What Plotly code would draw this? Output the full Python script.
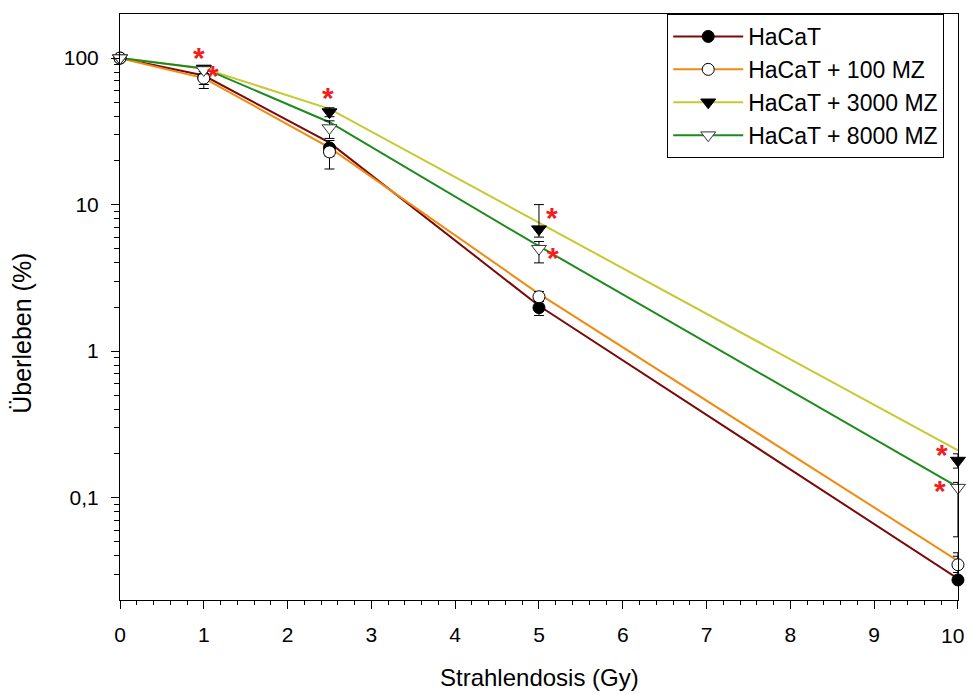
import math
import plotly.graph_objects as go

# ---- data ----
dose = [0, 1, 2.5, 5, 10]
names = ["HaCaT", "HaCaT + 100 MZ", "HaCaT + 3000 MZ", "HaCaT + 8000 MZ"]

# measured survival (%)
surv_hacat = [100, 74, 24.4, 1.98, 0.0274]
surv_100 = [100, 73, 22.9, 2.35, 0.0348]
surv_3000 = [100, 85, 42.8, 6.8, 0.179]
surv_8000 = [100, 83, 33.3, 5.0, 0.117]

# error bars (upper / lower)
err_up_hacat = [0, 4, 3, 0.2, 0.0146]
err_dn_hacat = [0, 8, 3, 0.23, 0.001]
err_up_100 = [0, 4, 2, 0.2, 0.005]
err_dn_100 = [0, 11, 5.4, 0.3, 0.004]
err_up_3000 = [0, 3, 3, 3.2, 0.02]
err_dn_3000 = [0, 4, 3, 0.8, 0.02]
err_up_8000 = [0, 3, 4, 0.6, 0.01]
err_dn_8000 = [0, 5, 5, 1.0, 0.063]

# fitted curves (%)
fit_hacat = [100, 76, 26.5, 2.04, 0.028]
fit_100 = [100, 73, 24.5, 2.46, 0.037]
fit_3000 = [100, 85, 45, 7.5, 0.21]
fit_8000 = [100, 85, 36.5, 5.2, 0.118]

# significance asterisks
star_x = [0.943, 1.11, 2.482, 5.155, 5.167, 9.809, 9.785]
star_y = [106.5, 80.3, 56.8, 8.61, 4.59, 0.2077, 0.1179]

x_tickvals = list(range(0, 11))
x_ticktext = [str(v) for v in x_tickvals]
y_tickvals = [0.1, 1, 10, 100]
y_ticktext = ["0,1", "1", "10", "100"]

# ---- styles ----
line_colors = ["#7A0A0A", "#F08A10", "#C8C832", "#1E8A1E"]
marker_symbols = ["circle", "circle", "triangle-down", "triangle-down"]
marker_fills = ["black", "white", "black", "white"]
marker_lines = ["black", "black", "black", "#333333"]
marker_sizes = [12, 12, 13, 13]

surv = [surv_hacat, surv_100, surv_3000, surv_8000]
eup = [err_up_hacat, err_up_100, err_up_3000, err_up_8000]
edn = [err_dn_hacat, err_dn_100, err_dn_3000, err_dn_8000]
fits = [fit_hacat, fit_100, fit_3000, fit_8000]

FONT = "Liberation Sans, Arial, sans-serif"

fig = go.Figure()

for i in range(4):
    fig.add_trace(go.Scatter(
        x=dose, y=fits[i], mode="lines",
        line=dict(color=line_colors[i], width=2),
        showlegend=False, hoverinfo="skip", cliponaxis=False))

for i in range(4):
    fig.add_trace(go.Scatter(
        x=dose, y=surv[i], mode="markers",
        marker=dict(symbol=marker_symbols[i], size=marker_sizes[i],
                    color=marker_fills[i],
                    line=dict(color=marker_lines[i], width=1)),
        error_y=dict(type="data", symmetric=False, array=eup[i],
                     arrayminus=edn[i], color="black", thickness=1, width=5),
        showlegend=False, cliponaxis=False))

# legend entries
for i in range(4):
    fig.add_trace(go.Scatter(
        x=[None], y=[None], mode="lines+markers", name=names[i],
        line=dict(color=line_colors[i], width=2),
        marker=dict(symbol=marker_symbols[i], size=marker_sizes[i],
                    color=marker_fills[i],
                    line=dict(color=marker_lines[i], width=1))))

annotations = []
for sx, sy in zip(star_x, star_y):
    annotations.append(dict(x=sx, y=math.log10(sy), yref="y", xref="x",
                            text="<b>*</b>", showarrow=False, yshift=-3,
                            font=dict(size=30, color="#F02020", family=FONT)))

# last x tick label placed so it stays inside the page
annotations.append(dict(x=x_tickvals[-1], y=0, xref="x", yref="paper",
                        text=x_ticktext[-1], showarrow=False,
                        xanchor="right", yanchor="top", xshift=8, yshift=-22,
                        font=dict(size=21, color="black", family=FONT)))
x_ticktext_axis = x_ticktext[:-1] + [""]

annotations.append(dict(xref="paper", yref="paper", x=0.5, y=-0.133,
                        text="Strahlendosis (Gy)", showarrow=False,
                        xanchor="center", yanchor="middle",
                        font=dict(size=24, color="black", family=FONT)))
annotations.append(dict(xref="paper", yref="paper", x=-0.117, y=0.456,
                        text="Überleben (%)", showarrow=False, textangle=-90,
                        xanchor="center", yanchor="middle",
                        font=dict(size=25, color="black", family=FONT)))

minor_y = [k * 10 ** n for n in range(-2, 3) for k in range(2, 10)
           if 0.02 < k * 10 ** n < 200]

fig.update_layout(
    width=967, height=695,
    margin=dict(l=120, r=9, t=14, b=95),
    paper_bgcolor="white", plot_bgcolor="white",
    font=dict(family=FONT, color="black", size=21),
    annotations=annotations,
    legend=dict(x=0.653, y=1.0, xanchor="left", yanchor="top",
                bordercolor="black", borderwidth=1, bgcolor="white",
                font=dict(size=23, family=FONT), tracegroupgap=0,
                itemwidth=70),
    xaxis=dict(range=[0, 10.0005], tickvals=x_tickvals,
               ticktext=x_ticktext_axis, automargin=False,
               showline=True, linecolor="black", linewidth=1, mirror=True,
               ticks="outside", ticklen=8, tickcolor="black",
               ticklabelstandoff=8,
               minor=dict(dtick=0.2, ticks="outside", ticklen=4,
                          tickcolor="black"),
               showgrid=False, zeroline=False,
               tickfont=dict(size=21, family=FONT)),
    yaxis=dict(type="log", range=[-1.699, 2.301], automargin=False,
               tickvals=y_tickvals, ticktext=y_ticktext,
               showline=True, linecolor="black", linewidth=1, mirror=True,
               ticks="outside", ticklen=8, tickcolor="black",
               ticklabelstandoff=8,
               minor=dict(tickvals=minor_y, ticks="outside", ticklen=5,
                          tickcolor="black", showgrid=False),
               showgrid=False, zeroline=False,
               tickfont=dict(size=21, family=FONT)),
)

fig.write_html("out.html")
